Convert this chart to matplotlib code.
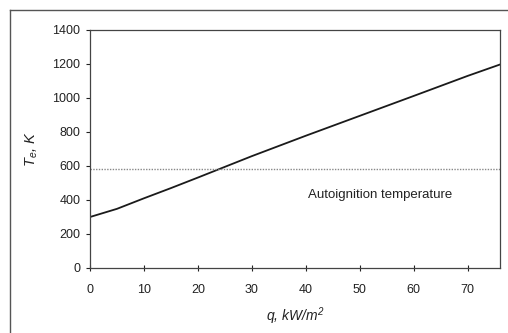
import matplotlib
matplotlib.use("Agg")
import matplotlib.pyplot as plt
from matplotlib.lines import Line2D

plt.rcParams['font.family'] = ['Liberation Sans', 'DejaVu Sans']
plt.rcParams['mathtext.fontset'] = 'custom'
plt.rcParams['mathtext.it'] = 'Liberation Sans:italic'
plt.rcParams['mathtext.rm'] = 'Liberation Sans:italic'

q = [0, 5, 10, 15, 20, 25, 30, 40, 50, 60, 70, 76]
Te = [300, 348, 410, 470, 532, 595, 658, 778, 895, 1012, 1130, 1197]
autoignition = 585
xticks = [0, 10, 20, 30, 40, 50, 60, 70]
yticks = [0, 200, 400, 600, 800, 1000, 1200, 1400]

W, H = 508, 333
fig = plt.figure(figsize=(W/100, H/100), dpi=100)
ax = fig.add_axes([90/W, 1 - 268/H, (500-90)/W, (268-30)/H])

ax.plot(q, Te, color='#1a1a1a', lw=1.3)
ax.axhline(autoignition, color='#888888', lw=1.0, ls=(0, (1, 1)))
ax.text(53.8, 430, 'Autoignition temperature', ha='center', va='center', fontsize=9.5, color='#222222')

ax.set_xlim(0, 76)
ax.set_ylim(0, 1400)
ax.set_xticks(xticks)
ax.set_yticks(yticks)
ax.tick_params(axis='both', labelsize=9, colors='#222222', length=3, width=0.8)
ax.tick_params(axis='x', direction='inout', length=5, pad=9)
ax.tick_params(axis='y', direction='out', pad=4)
for s in ax.spines.values():
    s.set_color('#444444')
    s.set_linewidth(0.9)

ax.set_xlabel('q, kW/m$^2$', style='italic', fontsize=10, color='#222222', labelpad=7)
ax.set_ylabel('T$_e$, K', style='italic', fontsize=10.5, color='#222222', labelpad=9)

# outer frame (top and left only visible)
fig.add_artist(Line2D([10/W, 1.0], [1 - 10/H, 1 - 10/H], transform=fig.transFigure, color='#555555', lw=1.0))
fig.add_artist(Line2D([10/W, 10/W], [0.0, 1 - 10/H], transform=fig.transFigure, color='#555555', lw=1.0))

fig.savefig('out.png', dpi=100)
